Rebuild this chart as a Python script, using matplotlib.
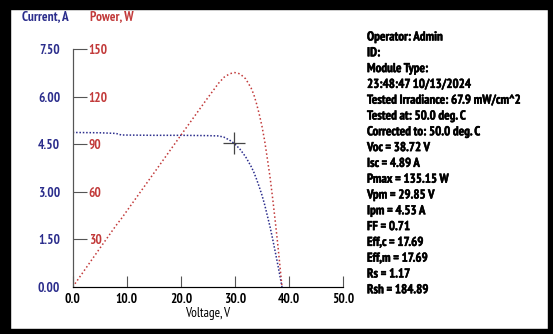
import matplotlib.pyplot as plt
import matplotlib.patheffects as pe
from matplotlib.patches import Rectangle

plt.rcParams['font.family'] = ['PT Sans Narrow', 'Roboto Condensed', 'DejaVu Sans']
plt.rcParams['font.weight'] = 'bold'

# I-V sweep
voltage = [0, 5, 8, 9, 15, 20, 25, 27, 28, 29, 29.85, 30.5, 31, 32, 33, 33.5,
           34, 34.5, 35, 35.5, 36, 36.5, 37, 37.5, 38, 38.72]
current = [4.87, 4.86, 4.84, 4.79, 4.78, 4.78, 4.77, 4.76, 4.72, 4.63, 4.53, 4.42,
           4.33, 4.10, 3.80, 3.62, 3.40, 3.16, 2.90, 2.60, 2.25, 1.90, 1.50, 1.08,
           0.65, 0.0]
power = [0, 24.3, 38.7, 43.1, 71.7, 95.6, 119.3, 128.5, 132.2, 134.3, 135.2, 134.8,
         134.2, 131.2, 125.4, 121.3, 115.6, 109.0, 101.5, 92.3, 81.0, 69.4, 55.5,
         40.5, 24.7, 0]

vpm, ipm = 29.85, 4.53
i_ticks = [0, 1.5, 3.0, 4.5, 6.0, 7.5]
p_ticks = [30, 60, 90, 120, 150]
v_ticks = [0, 10, 20, 30, 40, 50]

info = ["Operator: Admin", "ID:", "Module Type:", "23:48:47 10/13/2024",
        "Tested Irradiance: 67.9 mW/cm^2", "Tested at: 50.0 deg. C",
        "Corrected to: 50.0 deg. C", "Voc = 38.72 V", "Isc = 4.89 A",
        "Pmax = 135.15 W", "Vpm = 29.85 V", "Ipm = 4.53 A", "FF = 0.71",
        "Eff,c = 17.69", "Eff,m = 17.69", "Rs = 1.17", "Rsh = 184.89"]

blue = '#2b2d8c'
red = '#c23a3a'
grey = '#555555'
W, H = 553, 334

fig = plt.figure(figsize=(W / 100, H / 100), dpi=100)
ax = fig.add_axes([72.7 / W, 1 - 287 / H, (343 - 72.7) / W, (287 - 49) / H])
ax2 = ax.twinx()

ax.plot(voltage, current, color=blue, lw=1.1, ls=(0, (1, 1.2)))
ax.plot([vpm], [ipm], marker='+', ms=16, mew=0.9, color='#444444')
ax2.plot(voltage, power, color=red, lw=1.1, ls=(0, (1, 1.6)))

ax.set_xlim(0, 50)
ax.set_ylim(0, 7.5)
ax2.set_ylim(0, 150)

for s in ('right', 'top'):
    ax.spines[s].set_visible(False)
ax2.spines['top'].set_visible(False)
ax2.spines['left'].set_visible(False)
ax2.spines['right'].set_position(('axes', 0))
ax2.spines['right'].set_color(grey)
ax.spines['left'].set_color(grey)
ax.spines['bottom'].set_color(grey)

ax.set_xticks(v_ticks)
ax.set_xticklabels([f"{v:.1f}" for v in v_ticks])
ax.tick_params(axis='x', direction='in', length=8, width=0.8, color=grey,
               pad=4, labelsize=9.5)
ax.set_yticks(i_ticks)
ax.set_yticklabels([f"{v:.2f}" for v in i_ticks])
ax.tick_params(axis='y', length=0, pad=9, labelsize=9.5, labelcolor=blue)

ax2.set_yticks(p_ticks)
ax2.set_yticklabels([str(v) for v in p_ticks])
ax2.tick_params(axis='y', direction='out', length=10, width=0.8, color=grey,
                pad=1.5, labelsize=9.5, labelcolor=red)

ax.set_xlabel("Voltage, V", fontsize=9.5, labelpad=1)

fig.text(22 / W, 1 - 17 / H, "Current, A", color=blue, fontsize=9.5, va='center')
fig.text(90 / W, 1 - 17 / H, "Power, W", color=red, fontsize=9.5, va='center')

bold = [pe.withStroke(linewidth=0.35, foreground='black')]
for k, line in enumerate(info):
    fig.text(367 / W, 1 - (37 + k * 15.8) / H, line, fontsize=9.3, va='center',
             path_effects=bold)

# black frame around the screenshot
for x0, y0, w, h in [(0, 0, 10, H), (0, H - 9, W, 9), (W - 5, 0, 5, H), (0, 0, W, 5)]:
    fig.patches.append(Rectangle((x0 / W, y0 / H), w / W, h / H, transform=fig.transFigure,
                                 color='black', zorder=10))

fig.savefig('out.png', dpi=100)
